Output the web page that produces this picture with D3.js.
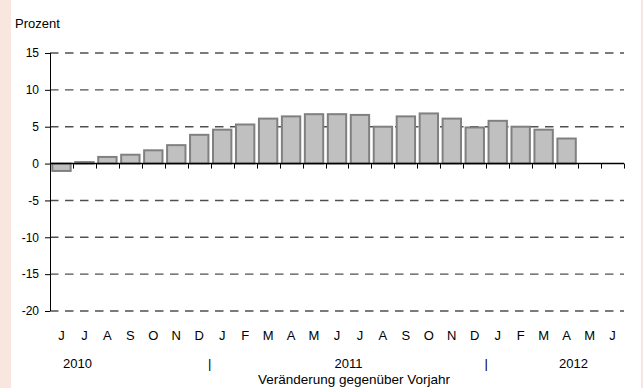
<!DOCTYPE html>
<html>
<head>
<meta charset="utf-8">
<script src="https://cdn.jsdelivr.net/npm/d3@7"></script>
<style>
  body { margin: 0; background: #fff; }
  svg { display: block; font-family: "Liberation Sans", Arial, sans-serif; }
</style>
</head>
<body>
<div id="graph"></div>
<script>
// data
var months = ["J", "J", "A", "S", "O", "N", "D", "J", "F", "M", "A", "M",
              "J", "J", "A", "S", "O", "N", "D", "J", "F", "M", "A", "M", "J"];
var values = [-1.0, 0.2, 0.9, 1.2, 1.8, 2.5, 3.9, 4.6, 5.3, 6.1, 6.4, 6.7,
              6.7, 6.6, 5.0, 6.4, 6.8, 6.1, 4.9, 5.8, 5.0, 4.6, 3.4];
var yTicks = [15, 10, 5, 0, -5, -10, -15, -20];
var yearLabels = ["2010", "|", "2011", "|", "2012"];
var yearPos = [1.2, 6.95, 13, 19, 22.8]; // in month units
var yLabel = "Prozent";
var xLabel = "Veränderung gegenüber Vorjahr";

//measurements
var width = 643;
var height = 388;
var margin = { top: 53, right: 19, bottom: 77, left: 50 };
var chartWidth = width - margin.left - margin.right;
var chartHeight = height - margin.top - margin.bottom;

var chart = d3.select("#graph").append("svg")
    .attr("width", width)
    .attr("height", height);

// pink side strips
chart.append("rect").attr("x", 0).attr("y", 0).attr("width", 11).attr("height", height).style("fill", "#f9e7df");
chart.append("rect").attr("x", 641).attr("y", 0).attr("width", 2).attr("height", height).style("fill", "#f9e7df");

var plot = chart.append("g")
    .attr("transform", "translate(" + margin.left + "," + margin.top + ")");

var x = d3.scaleBand()
    .domain(d3.range(months.length))
    .range([0, chartWidth])
    .paddingInner(0.2)
    .paddingOuter(0.1);

var y = d3.scaleLinear()
    .domain([-20, 15])
    .range([chartHeight, 0]);

// dashed grid
plot.selectAll(".grid")
    .data(yTicks.filter(function (d) { return d !== 0; }))
    .enter().append("line")
      .attr("x1", 0)
      .attr("x2", chartWidth)
      .attr("y1", function (d) { return y(d); })
      .attr("y2", function (d) { return y(d); })
      .style("stroke", "#505050")
      .style("stroke-width", 1.4)
      .style("stroke-dasharray", "8.5,6.5");

// bars
plot.selectAll(".bar")
    .data(values)
    .enter().append("rect")
      .attr("class", "bar")
      .attr("x", function (d, i) { return x(i); })
      .attr("width", x.bandwidth())
      .attr("y", function (d) { return y(Math.max(0, d)); })
      .attr("height", function (d) { return Math.abs(y(d) - y(0)); })
      .style("fill", "#c0c0c0")
      .style("stroke", "#808080")
      .style("stroke-width", 2);

// y axis
var yAxis = d3.axisLeft(y)
    .tickValues(yTicks)
    .tickFormat(function (d) { return String(d); })
    .tickSize(5)
    .tickPadding(6);

var yAxisG = plot.append("g").call(yAxis);
yAxisG.select(".domain").attr("d", "M0.5," + y(15) + "V" + y(-20));
yAxisG.selectAll("text").style("font-size", "12px").style("fill", "#000");
yAxisG.selectAll("line").style("stroke", "#000");
yAxisG.selectAll(".domain").style("stroke", "#000");

// zero line with month boundary ticks
var xTickScale = d3.scaleLinear().domain([0, months.length]).range([0, chartWidth]);
plot.append("line")
    .attr("x1", 0).attr("x2", chartWidth)
    .attr("y1", y(0)).attr("y2", y(0))
    .style("stroke", "#000")
    .style("stroke-width", 1.5);

plot.selectAll(".xtick")
    .data(d3.range(1, months.length + 1))
    .enter().append("line")
      .attr("x1", function (d) { return Math.round(xTickScale(d)) + 0.5; })
      .attr("x2", function (d) { return Math.round(xTickScale(d)) + 0.5; })
      .attr("y1", y(0))
      .attr("y2", y(0) + 5)
      .style("stroke", "#000");

// month labels
plot.selectAll(".month")
    .data(months)
    .enter().append("text")
      .attr("x", function (d, i) { return x(i) + x.bandwidth() / 2; })
      .attr("y", chartHeight + 29)
      .attr("text-anchor", "middle")
      .style("font-size", "13px")
      .style("fill", "#000")
      .text(function (d) { return d; });

// year labels
plot.selectAll(".year")
    .data(yearLabels)
    .enter().append("text")
      .attr("x", function (d, i) { return xTickScale(yearPos[i]); })
      .attr("y", chartHeight + 57)
      .attr("text-anchor", "middle")
      .style("font-size", "13px")
      .style("fill", "#000")
      .text(function (d) { return d; });

// axis headers
chart.append("text")
    .attr("x", 15)
    .attr("y", 28)
    .style("font-size", "13px")
    .text(yLabel);

chart.append("text")
    .attr("x", 354)
    .attr("y", 384)
    .attr("text-anchor", "middle")
    .style("font-size", "13.5px")
    .text(xLabel);
</script>
</body>
</html>
